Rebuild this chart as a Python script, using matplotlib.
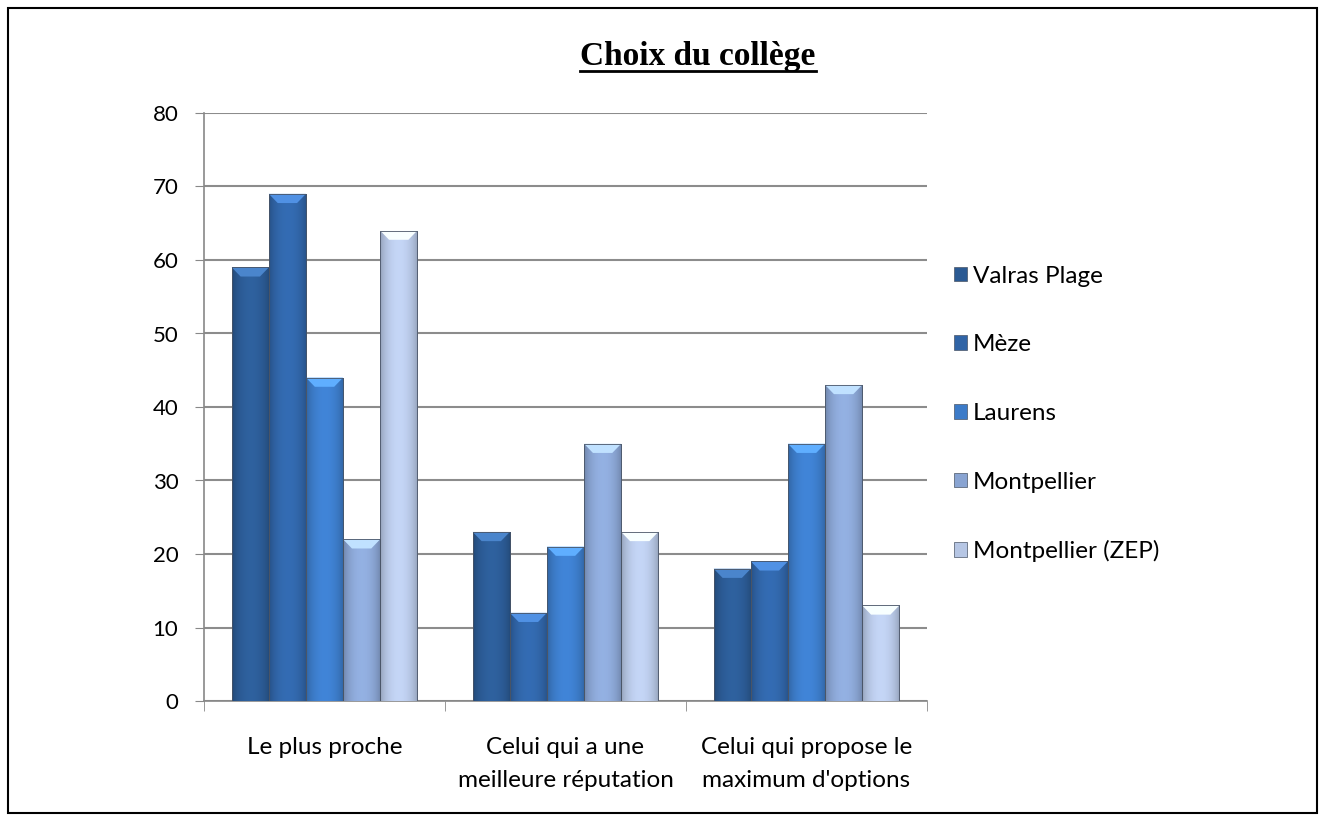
import matplotlib
matplotlib.use("Agg")
import matplotlib.pyplot as plt
import numpy as np
from matplotlib.patches import Patch, Rectangle, Polygon
from matplotlib.colors import to_rgb

categories = ["Le plus proche", "Celui qui a une\nmeilleure réputation", "Celui qui propose le\nmaximum d'options"]
series = ["Valras Plage", "Mèze", "Laurens", "Montpellier", "Montpellier (ZEP)"]
valras = [59, 23, 18]
meze = [69, 12, 19]
laurens = [44, 21, 35]
montpellier = [22, 35, 43]
montpellier_zep = [64, 23, 13]
values = [valras, meze, laurens, montpellier, montpellier_zep]
colors = ["#2B5A93", "#3064A6", "#3C7BC8", "#89A4D2", "#B6C6E4"]
yticks = [0, 10, 20, 30, 40, 50, 60, 70, 80]

plt.rcParams['font.family'] = ['Lato', 'DejaVu Sans']

fig = plt.figure(figsize=(13.25, 8.21), dpi=100)
fig.patches.append(Rectangle((8/1325, 8/821), 1309/1325, 805/821, transform=fig.transFigure,
                             fill=False, edgecolor='black', linewidth=1.5))

ax = fig.add_axes([204/1325, 1 - 701/821, 723/1325, 588/821])
x = np.arange(len(categories))
w = 0.154
n = len(series)
for i, (vals, c) in enumerate(zip(values, colors)):
    offs = (i - (n - 1) / 2) * w
    bars = ax.bar(x + offs, vals, width=w, color=c, edgecolor='#4a5566', linewidth=0.6,
                  label=series[i], zorder=3)
    base = np.array(to_rgb(c))
    grad = np.linspace(0, 1, 64)
    shade = 0.78 + 0.3 * np.sin(grad * np.pi) ** 0.6
    img = np.clip(base[None, None, :] * shade[None, :, None], 0, 1)
    light = np.clip(base * 1.25 + 0.08, 0, 1)
    for b in bars:
        bx, by = b.get_x(), b.get_y()
        bw, bh = b.get_width(), b.get_height()
        im = ax.imshow(img, extent=(bx, bx + bw, by, by + bh), aspect='auto', zorder=3.5,
                       interpolation='bilinear')
        im.set_clip_path(b)
        d = bw * 0.24
        hh = 1.25
        top = by + bh
        ax.add_patch(Polygon([(bx, top), (bx + bw, top), (bx + bw - d, top - hh), (bx + d, top - hh)],
                             closed=True, facecolor=light, edgecolor='none', zorder=3.6))
        ax.add_patch(Rectangle((bx, by), bw, bh, fill=False, edgecolor='#4a5566',
                               linewidth=0.6, zorder=3.7))

ax.set_xlim(-0.5, len(categories) - 0.5)
ax.set_ylim(0, 80)
ax.set_yticks(yticks)
ax.tick_params(axis='y', labelsize=16, length=6.5, color='#888888', pad=12)
ax.set_xticks(x)
ax.set_xticklabels(categories, fontsize=17.5, linespacing=1.72)
ax.tick_params(axis='x', which='major', length=0, pad=26)
ax.set_xticks(np.arange(-0.5, len(categories)), minor=True)
ax.tick_params(axis='x', which='minor', length=7, color='#888888')
ax.grid(axis='y', color='#8c8c8c', linewidth=1.5, zorder=0)
for s in ['top', 'right']:
    ax.spines[s].set_visible(False)
for s in ['left', 'bottom']:
    ax.spines[s].set_color('#888888')
    ax.spines[s].set_linewidth(1.2)

handles = [Patch(facecolor=c, edgecolor='#4a5566', linewidth=0.5) for c in colors]
fig.legend(handles, series, loc='upper left', bbox_to_anchor=(944/1325, 1 - 256/821),
           frameon=False, fontsize=17.5, labelspacing=1.96, handlelength=0.55, handleheight=0.55,
           handletextpad=0.25, borderaxespad=0)

t = fig.text(698/1325, 1 - 57/821, "Choix du collège", ha='center', va='center',
             fontsize=24, fontweight='bold', family='Liberation Serif')
fig.canvas.draw()
bb = t.get_window_extent()
fig.add_artist(plt.Line2D([bb.x0 / 1325, bb.x1 / 1325], [(bb.y0 + 1) / 821, (bb.y0 + 1) / 821],
                          transform=fig.transFigure, color='black', linewidth=2))

fig.savefig("out.png", dpi=100)
